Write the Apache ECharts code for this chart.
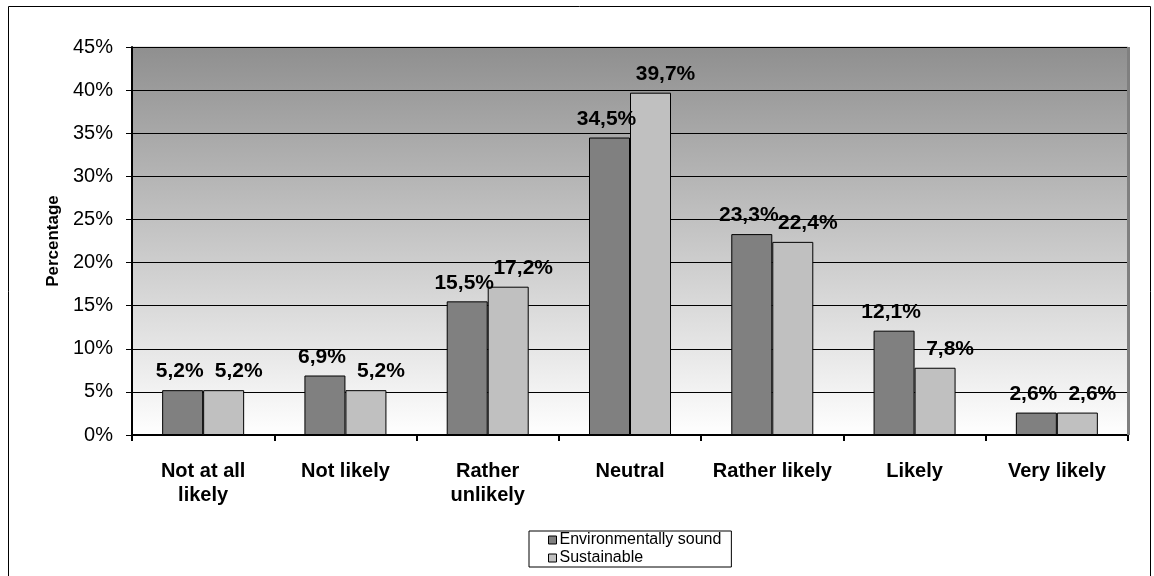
<!DOCTYPE html>
<html>
<head>
<meta charset="utf-8">
<script src="https://cdn.jsdelivr.net/npm/echarts@6/dist/echarts.min.js"></script>
<style>
  html, body { margin: 0; padding: 0; background: #ffffff; }
  #chart { width: 1154px; height: 576px; }
</style>
</head>
<body>
<div id="chart"></div>
<script>
// Survey answers: likelihood ratings, in percent
const categories = ['Not at all\nlikely', 'Not likely', 'Rather\nunlikely', 'Neutral', 'Rather likely', 'Likely', 'Very likely'];
const envSound = [5.2, 6.9, 15.5, 34.5, 23.3, 12.1, 2.6];
const sustainable = [5.2, 5.2, 17.2, 39.7, 22.4, 7.8, 2.6];
const seriesNames = ['Environmentally sound', 'Sustainable'];
const yTicks = { min: 0, max: 45, step: 5 };

const font = 'Arial, "Liberation Sans", sans-serif';
const pct = v => v.toFixed(1).replace('.', ',') + '%';

const chart = echarts.init(document.getElementById('chart'), null, { renderer: 'canvas' });

// value labels sit above each bar; the second series' labels are nudged right
function barLabel(dx) {
  return {
    show: true,
    position: 'top',
    distance: 8,
    offset: [dx, 0],
    fontFamily: font,
    fontWeight: 'bold',
    fontSize: 21,
    color: '#000',
    formatter: p => pct(p.value)
  };
}

chart.setOption({
  animation: false,
  graphic: [{
    type: 'rect',
    shape: { x: 8.5, y: 6.5, width: 1142, height: 580 },
    style: { fill: 'none', stroke: '#000', lineWidth: 1 },
    z: -10
  }, {
    // right-hand wall edge of the plot
    type: 'rect',
    shape: { x: 1127, y: 47, width: 3, height: 388 },
    style: { fill: '#808080' },
    z: 1
  }],
  grid: {
    left: 132, right: 26, top: 47, bottom: 141,
    show: true,
    borderWidth: 1,
    borderColor: '#c8c8c8',
    backgroundColor: {
      type: 'linear', x: 0, y: 0, x2: 0, y2: 1,
      colorStops: [
        { offset: 0, color: '#8f8f8f' },
        { offset: 1, color: '#ffffff' }
      ]
    }
  },
  legend: {
    data: seriesNames,
    orient: 'vertical',
    left: 529,
    top: 531,
    itemWidth: 8,
    itemHeight: 8,
    itemGap: 2,
    padding: [1, 10, 1, 19],
    borderColor: '#000',
    borderWidth: 1,
    backgroundColor: '#fff',
    icon: 'rect',
    itemStyle: { borderColor: '#000', borderWidth: 1 },
    textStyle: { fontFamily: font, fontSize: 16, color: '#000', padding: [0, 0, 0, -2] }
  },
  xAxis: {
    type: 'category',
    data: categories,
    axisLine: { show: true, lineStyle: { color: '#000', width: 2 } },
    axisTick: { show: true, alignWithLabel: false, length: 6, inside: false, lineStyle: { color: '#000', width: 2 } },
    axisLabel: {
      interval: 0,
      margin: 24,
      fontFamily: font,
      fontWeight: 'bold',
      fontSize: 20,
      lineHeight: 24,
      color: '#000'
    }
  },
  yAxis: {
    type: 'value',
    min: yTicks.min,
    max: yTicks.max,
    interval: yTicks.step,
    name: 'Percentage',
    nameLocation: 'middle',
    nameGap: 70,
    nameRotate: 90,
    nameTextStyle: { fontFamily: font, fontWeight: 'bold', fontSize: 17, color: '#000' },
    axisLine: { show: true, lineStyle: { color: '#000', width: 2 } },
    axisTick: { show: true, length: 6, lineStyle: { color: '#000', width: 1 } },
    axisLabel: {
      margin: 19,
      fontFamily: font,
      fontSize: 20,
      color: '#000',
      formatter: v => v + '%'
    },
    splitLine: { show: true, lineStyle: { color: '#000', width: 1 } }
  },
  series: [{
    name: seriesNames[0],
    type: 'bar',
    data: envSound,
    barWidth: 41,
    barGap: '0%',
    itemStyle: { color: '#808080', borderColor: '#000', borderWidth: 1 },
    label: barLabel(-3),
    z: 3
  }, {
    name: seriesNames[1],
    type: 'bar',
    data: sustainable,
    barWidth: 41,
    barGap: '0%',
    itemStyle: { color: '#c0c0c0', borderColor: '#000', borderWidth: 1 },
    label: barLabel(15),
    z: 3
  }]
});
</script>
</body>
</html>
